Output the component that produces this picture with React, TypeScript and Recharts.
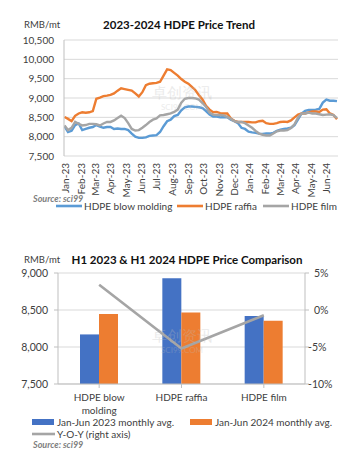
import React from 'react';
import {
  LineChart,
  Line,
  XAxis,
  YAxis,
  CartesianGrid,
  ComposedChart,
  Bar,
} from 'recharts';

// ---------- Chart 1: 2023-2024 HDPE price trend (weekly readings) ----------
const dates = [
  '2023-01-02', '2023-01-09', '2023-01-16', '2023-01-23', '2023-01-30',
  '2023-02-06', '2023-02-13', '2023-02-20', '2023-02-27',
  '2023-03-06', '2023-03-13', '2023-03-20', '2023-03-27',
  '2023-04-03', '2023-04-10', '2023-04-17', '2023-04-24',
  '2023-05-01', '2023-05-08', '2023-05-15', '2023-05-22', '2023-05-29',
  '2023-06-05', '2023-06-12', '2023-06-19', '2023-06-26',
  '2023-07-03', '2023-07-10', '2023-07-17', '2023-07-24', '2023-07-31',
  '2023-08-07', '2023-08-14', '2023-08-21', '2023-08-28',
  '2023-09-04', '2023-09-11', '2023-09-18', '2023-09-25',
  '2023-10-02', '2023-10-09', '2023-10-16', '2023-10-23', '2023-10-30',
  '2023-11-06', '2023-11-13', '2023-11-20', '2023-11-27',
  '2023-12-04', '2023-12-11', '2023-12-18', '2023-12-25',
  '2024-01-01', '2024-01-08', '2024-01-15', '2024-01-22', '2024-01-29',
  '2024-02-05', '2024-02-12', '2024-02-19', '2024-02-26',
  '2024-03-04', '2024-03-11', '2024-03-18', '2024-03-25',
  '2024-04-01', '2024-04-08', '2024-04-15', '2024-04-22', '2024-04-29',
  '2024-05-06', '2024-05-13', '2024-05-20', '2024-05-27',
  '2024-06-03', '2024-06-10', '2024-06-17', '2024-06-24',
];

const blowMolding = [
  8270, 8120, 8150, 8300, 8340,
  8170, 8200, 8230, 8250,
  8300, 8260, 8230, 8250,
  8250, 8200, 8210, 8200,
  8200, 8170, 8080, 8000, 7970,
  7970, 7980, 8020, 8030,
  8040, 8120, 8270, 8400, 8440,
  8530, 8560, 8680, 8760,
  8780, 8780, 8770, 8760,
  8740, 8660, 8570, 8520, 8520,
  8500, 8510, 8500, 8440,
  8400, 8350, 8230, 8200,
  8130, 8110, 8100, 8080, 8070,
  8080, 8080, 8100, 8150,
  8180, 8200, 8210, 8230,
  8300, 8450, 8600, 8670, 8690,
  8690, 8700, 8720, 8880,
  8960, 8930, 8930, 8920,
];

const raffia = [
  8510, 8460, 8400, 8540, 8600,
  8630, 8620, 8630, 8660,
  8980, 9010, 9050, 9060,
  9080, 9120, 9190, 9250,
  9230, 9210, 9190, 9120, 9040,
  9150, 9330, 9370, 9380,
  9390, 9420, 9580, 9740, 9720,
  9650, 9580, 9490, 9420,
  9370, 9290, 9200, 9070,
  8960, 8800, 8700, 8630, 8640,
  8610, 8600, 8600, 8470,
  8410, 8380, 8380, 8380,
  8380, 8370, 8370, 8400, 8410,
  8350, 8330, 8330, 8350,
  8380, 8390, 8380, 8420,
  8500, 8570, 8600, 8600, 8630,
  8650, 8650, 8640, 8700,
  8710, 8600, 8560, 8450,
];

const film = [
  8290, 8170, 8230, 8380, 8330,
  8290, 8300, 8330, 8330,
  8320, 8290, 8340, 8380,
  8380, 8420, 8480, 8540,
  8480, 8350, 8200, 8160, 8170,
  8230, 8300, 8380, 8440,
  8470, 8550, 8560, 8580, 8600,
  8640, 8700, 8880, 8980,
  9000, 9000, 8990, 8960,
  8870, 8770, 8620, 8570, 8560,
  8560, 8550, 8510, 8460,
  8400, 8380, 8380, 8350,
  8290, 8230, 8150, 8080, 8050,
  8030, 8030, 8080, 8140,
  8160, 8160, 8170, 8220,
  8320, 8500, 8600, 8600, 8620,
  8600, 8600, 8580, 8560,
  8570, 8580, 8560, 8480,
];

const monthTicks = [
  '2023-01-01', '2023-02-01', '2023-03-01', '2023-04-01', '2023-05-01', '2023-06-01',
  '2023-07-01', '2023-08-01', '2023-09-01', '2023-10-01', '2023-11-01', '2023-12-01',
  '2024-01-01', '2024-02-01', '2024-03-01', '2024-04-01', '2024-05-01', '2024-06-01',
];
const monthLabels = [
  'Jan-23', 'Feb-23', 'Mar-23', 'Apr-23', 'May-23', 'Jun-23',
  'Jul-23', 'Aug-23', 'Sep-23', 'Oct-23', 'Nov-23', 'Dec-23',
  'Jan-24', 'Feb-24', 'Mar-24', 'Apr-24', 'May-24', 'Jun-24',
];
const trendStart = '2023-01-01';
const trendEnd = '2024-06-26';
const priceTicks = [7500, 8000, 8500, 9000, 9500, 10000, 10500];

const trendSeries = [
  { key: 'blow', name: 'HDPE blow molding', color: '#5B9BD5' },
  { key: 'raffia', name: 'HDPE raffia', color: '#ED7D31' },
  { key: 'film', name: 'HDPE film', color: '#A5A5A5' },
];

// ---------- Chart 2: H1 2023 vs H1 2024 ----------
const products = ['HDPE blow molding', 'HDPE raffia', 'HDPE film'];
const avg2023 = [8170, 8930, 8420];
const avg2024 = [8445, 8465, 8355];
const yoy = [3.4, -5.2, -0.7];
const leftTicks = [7500, 8000, 8500, 9000];
const rightTicks = [-10, -5, 0, 5];

const compSeries = [
  { name: 'Jan-Jun 2023 monthly avg.', color: '#4472C4', type: 'bar' },
  { name: 'Jan-Jun 2024 monthly avg.', color: '#ED7D31', type: 'bar' },
  { name: 'Y-O-Y (right axis)', color: '#A5A5A5', type: 'line' },
];

// ---------- helpers ----------
const FONT = 'Lato, "Open Sans", Arial, sans-serif';
const TICK_COLOR = '#404040';
const toTime = (s: string) => Date.parse(s + 'T00:00:00Z');
const tickTimes = monthTicks.map(toTime);

const trendData = dates.map((d, i) => ({
  t: toTime(d),
  blow: blowMolding[i],
  raffia: raffia[i],
  film: film[i],
}));

const compData = products.map((p, i) => ({
  name: p,
  a2023: avg2023[i],
  a2024: avg2024[i],
  yoy: yoy[i],
}));

const fmtNum = (v: number) => v.toLocaleString('en-US');

// greedy word wrap by character count
const wrapLabel = (s: string, maxChars: number) => {
  const lines: string[] = [];
  let cur = '';
  s.split(' ').forEach((w) => {
    const next = cur ? cur + ' ' + w : w;
    if (next.length > maxChars && cur) {
      lines.push(cur);
      cur = w;
    } else {
      cur = next;
    }
  });
  if (cur) lines.push(cur);
  return lines;
};

const MonthTick = (props: any) => {
  const { x, payload } = props;
  const idx = tickTimes.indexOf(payload.value);
  return (
    <text
      transform={`translate(${x + 1.4},163) rotate(-90)`}
      textAnchor="end"
      dy="0.35em"
      fontSize={10}
      fill={TICK_COLOR}
      fontFamily={FONT}
    >
      {monthLabels[idx]}
    </text>
  );
};

// chart-local coordinates (chart 2 sits 240px below page top)
const ProductTick = (props: any) => {
  const { x, payload } = props;
  const lines = wrapLabel(String(payload.value), 11);
  return (
    <text x={x} y={157} textAnchor="middle" fontSize={10} fill={TICK_COLOR} fontFamily={FONT}>
      {lines.map((l, i) => (
        <tspan key={i} x={x} dy={i === 0 ? '0.35em' : 13}>
          {l}
        </tspan>
      ))}
    </text>
  );
};

const RightTick = (props: any) => {
  const { y, payload } = props;
  const v = payload.value as number;
  return (
    <text
      x={v < 0 ? 308 : 314}
      y={y}
      dy="0.35em"
      textAnchor="start"
      fontSize={10.5}
      fill={TICK_COLOR}
      fontFamily={FONT}
    >
      {`${v}%`}
    </text>
  );
};

export default function App() {
  return (
    <div
      style={{
        position: 'absolute',
        left: 0,
        top: 0,
        width: 362,
        height: 457,
        background: '#fff',
        fontFamily: FONT,
        overflow: 'hidden',
      }}
    >
      {/* Chart 1 */}
      <div style={{ position: 'absolute', left: 0, top: 0 }}>
        <LineChart
          width={362}
          height={200}
          data={trendData}
          margin={{ top: 40, right: 24, bottom: 0, left: 0 }}
        >
          <CartesianGrid vertical={false} stroke="#D9D9D9" strokeWidth={1} />
          <XAxis
            type="number"
            dataKey="t"
            domain={[toTime(trendStart), toTime(trendEnd)]}
            ticks={tickTimes}
            interval={0}
            tick={<MonthTick />}
            tickLine={false}
            axisLine={false}
            height={44}
            allowDataOverflow
          />
          <YAxis
            domain={[7500, 10500]}
            ticks={priceTicks}
            width={64}
            interval={0}
            tickFormatter={fmtNum}
            axisLine={{ stroke: '#BFBFBF' }}
            tickLine={false}
            tickMargin={4}
            tick={{ fontSize: 10, fill: TICK_COLOR, fontFamily: FONT }}
          />
          {trendSeries.map((s) => (
            <Line
              key={s.key}
              type="linear"
              dataKey={s.key}
              name={s.name}
              stroke={s.color}
              strokeWidth={2.4}
              dot={false}
              isAnimationActive={false}
            />
          ))}
        </LineChart>
      </div>

      {/* Chart 2 */}
      <div style={{ position: 'absolute', left: 0, top: 240 }}>
        <ComposedChart
          width={362}
          height={217}
          data={compData}
          margin={{ top: 33, right: 7, bottom: 0, left: 0 }}
          barGap={0}
        >
          <CartesianGrid vertical={false} stroke="#D9D9D9" yAxisId="left" />
          <XAxis
            dataKey="name"
            height={73}
            interval={0}
            tick={<ProductTick />}
            axisLine={{ stroke: '#BFBFBF' }}
            tickLine={{ stroke: '#BFBFBF' }}
            tickSize={4}
          />
          <YAxis
            yAxisId="left"
            domain={[7500, 9000]}
            ticks={leftTicks}
            interval={0}
            width={58}
            tickFormatter={fmtNum}
            axisLine={{ stroke: '#BFBFBF' }}
            tickLine={{ stroke: '#BFBFBF' }}
            tickSize={4}
            tickMargin={6}
            tick={{ fontSize: 10.5, fill: TICK_COLOR, fontFamily: FONT }}
          />
          <YAxis
            yAxisId="right"
            orientation="right"
            domain={[-10, 5]}
            ticks={rightTicks}
            interval={0}
            width={50}
            axisLine={{ stroke: '#BFBFBF' }}
            tickLine={{ stroke: '#BFBFBF' }}
            tickSize={4}
            tick={<RightTick />}
          />
          <Bar yAxisId="left" dataKey="a2023" name={compSeries[0].name} fill={compSeries[0].color} barSize={19} isAnimationActive={false} />
          <Bar yAxisId="left" dataKey="a2024" name={compSeries[1].name} fill={compSeries[1].color} barSize={19} isAnimationActive={false} />
          <Line
            yAxisId="right"
            type="linear"
            dataKey="yoy"
            name={compSeries[2].name}
            stroke={compSeries[2].color}
            strokeWidth={2.6}
            dot={false}
            isAnimationActive={false}
          />
        </ComposedChart>
      </div>

      {/* Overlay texts: titles, units, legends, sources, watermarks */}
      <svg
        width={362}
        height={457}
        style={{ position: 'absolute', left: 0, top: 0, pointerEvents: 'none' }}
      >
        <g fontFamily={FONT} opacity={0.3}>
          <text x={182} y={98} fontSize={15} fill="#BDBDBD" textAnchor="middle">卓创资讯</text>
          <text x={182} y={110} fontSize={8} fill="#BDBDBD" textAnchor="middle">SCI99.COM</text>
          <text x={182} y={341} fontSize={15} fill="#BDBDBD" textAnchor="middle">卓创资讯</text>
          <text x={182} y={353} fontSize={8} fill="#BDBDBD" textAnchor="middle">SCI99.COM</text>
        </g>

        <text x={24} y={25} dy="0.35em" fontSize={9.5} fill={TICK_COLOR} fontFamily={FONT}>RMB/mt</text>
        <text x={179} y={25} dy="0.35em" fontSize={11.5} fontWeight={700} fill="#111" fontFamily={FONT} textAnchor="middle">
          2023-2024 HDPE Price Trend
        </text>

        <text x={24} y={260} dy="0.35em" fontSize={9.5} fill={TICK_COLOR} fontFamily={FONT}>RMB/mt</text>
        <text x={187} y={260} dy="0.35em" fontSize={11.5} fontWeight={700} fill="#111" fontFamily={FONT} textAnchor="middle">
          H1 2023 &amp; H1 2024 HDPE Price Comparison
        </text>

        {/* legend chart 1 */}
        {trendSeries.map((s, i) => {
          const lx = [56, 177, 263][i];
          return (
            <g key={s.key}>
              <line x1={lx} x2={lx + 26} y1={206} y2={206} stroke={s.color} strokeWidth={2.6} />
              <text x={lx + 28} y={206} dy="0.35em" fontSize={10} fill={TICK_COLOR} fontFamily={FONT}>
                {s.name}
              </text>
            </g>
          );
        })}
        <text x={33} y={199} dy="0.35em" fontSize={9} fontWeight={700} fontStyle="italic" fill="#808080" fontFamily={FONT}>
          Source: sci99
        </text>

        {/* legend chart 2 */}
        {compSeries.map((s, i) => {
          const lx = [32, 190, 32][i];
          const ly = [422, 422, 434][i];
          return (
            <g key={s.name}>
              {s.type === 'bar' ? (
                <rect x={lx} y={ly - 3} width={22} height={6} fill={s.color} />
              ) : (
                <line x1={lx} x2={lx + 23} y1={ly} y2={ly} stroke={s.color} strokeWidth={2.6} />
              )}
              <text x={lx + 25} y={ly} dy="0.35em" fontSize={10} fill={TICK_COLOR} fontFamily={FONT}>
                {s.name}
              </text>
            </g>
          );
        })}
        <text x={33} y={445} dy="0.35em" fontSize={9} fontWeight={700} fontStyle="italic" fill="#808080" fontFamily={FONT}>
          Source: sci99
        </text>
      </svg>
    </div>
  );
}
